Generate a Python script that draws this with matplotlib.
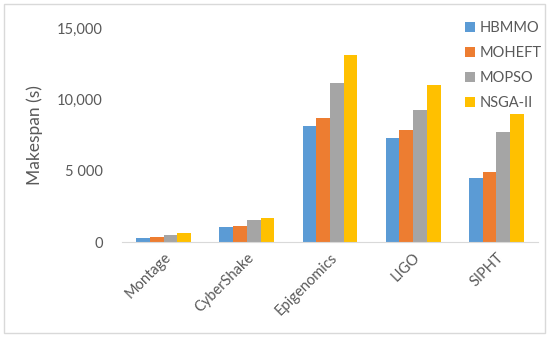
import numpy as np
import matplotlib
matplotlib.use('Agg')
import matplotlib.pyplot as plt
from matplotlib.patches import Rectangle

# data
workflows = ['Montage', 'CyberShake', 'Epigenomics', 'LIGO', 'SIPHT']
algorithms = ['HBMMO', 'MOHEFT', 'MOPSO', 'NSGA-II']
hbmmo = [300, 1030, 8110, 7310, 4510]
moheft = [320, 1120, 8700, 7830, 4910]
mopso = [510, 1540, 11130, 9240, 7690]
nsga2 = [610, 1700, 13110, 11010, 9000]
yticks = [0, 5000, 10000, 15000]
ytick_labels = ['0', '5 000', '10,000', '15,000']

colors = ['#5b9bd5', '#ed7d31', '#a5a5a5', '#ffc000']
text_col = '#595959'

plt.rcParams['font.family'] = ['Lato', 'DejaVu Sans']

fig = plt.figure(figsize=(5.5, 3.38), dpi=100)
ax = fig.add_axes([122 / 550, 1 - 242 / 338, 416 / 550, 214 / 338])

x = np.arange(len(workflows))
w = 0.165
series = [hbmmo, moheft, mopso, nsga2]
for i, vals in enumerate(series):
    ax.bar(x + (i - 1.5) * w, vals, w, color=colors[i], label=algorithms[i])

ax.set_xlim(-0.5, len(workflows) - 0.5)
ax.set_ylim(0, 15000)
ax.set_yticks(yticks)
ax.set_yticklabels(ytick_labels)
ax.set_xticks(x)
ax.set_xticklabels(workflows, rotation=45, ha='right', rotation_mode='anchor')
ax.tick_params(axis='both', length=0, colors=text_col, labelsize=10.5)
ax.tick_params(axis='y', pad=14)
ax.tick_params(axis='x', pad=6)
for s in ['top', 'right', 'left']:
    ax.spines[s].set_visible(False)
ax.spines['bottom'].set_color('#d9d9d9')
ax.set_ylabel('Makespan (s)', color=text_col, fontsize=12.5, labelpad=10)

handles, labels = ax.get_legend_handles_labels()
fig.legend(handles, labels, loc='upper right', bbox_to_anchor=(549 / 550, 1 - 14 / 338),
           frameon=False, fontsize=10.5, labelcolor=text_col, borderpad=0,
           handlelength=0.7, handleheight=0.7, handletextpad=0.3, labelspacing=0.75)

# light frame around the whole chart
fig.patches.append(Rectangle((4 / 550, 5 / 338), 541 / 550, 329 / 338, transform=fig.transFigure,
                             fill=False, edgecolor='#d9d9d9', linewidth=1))

fig.savefig('out.png', dpi=100)
